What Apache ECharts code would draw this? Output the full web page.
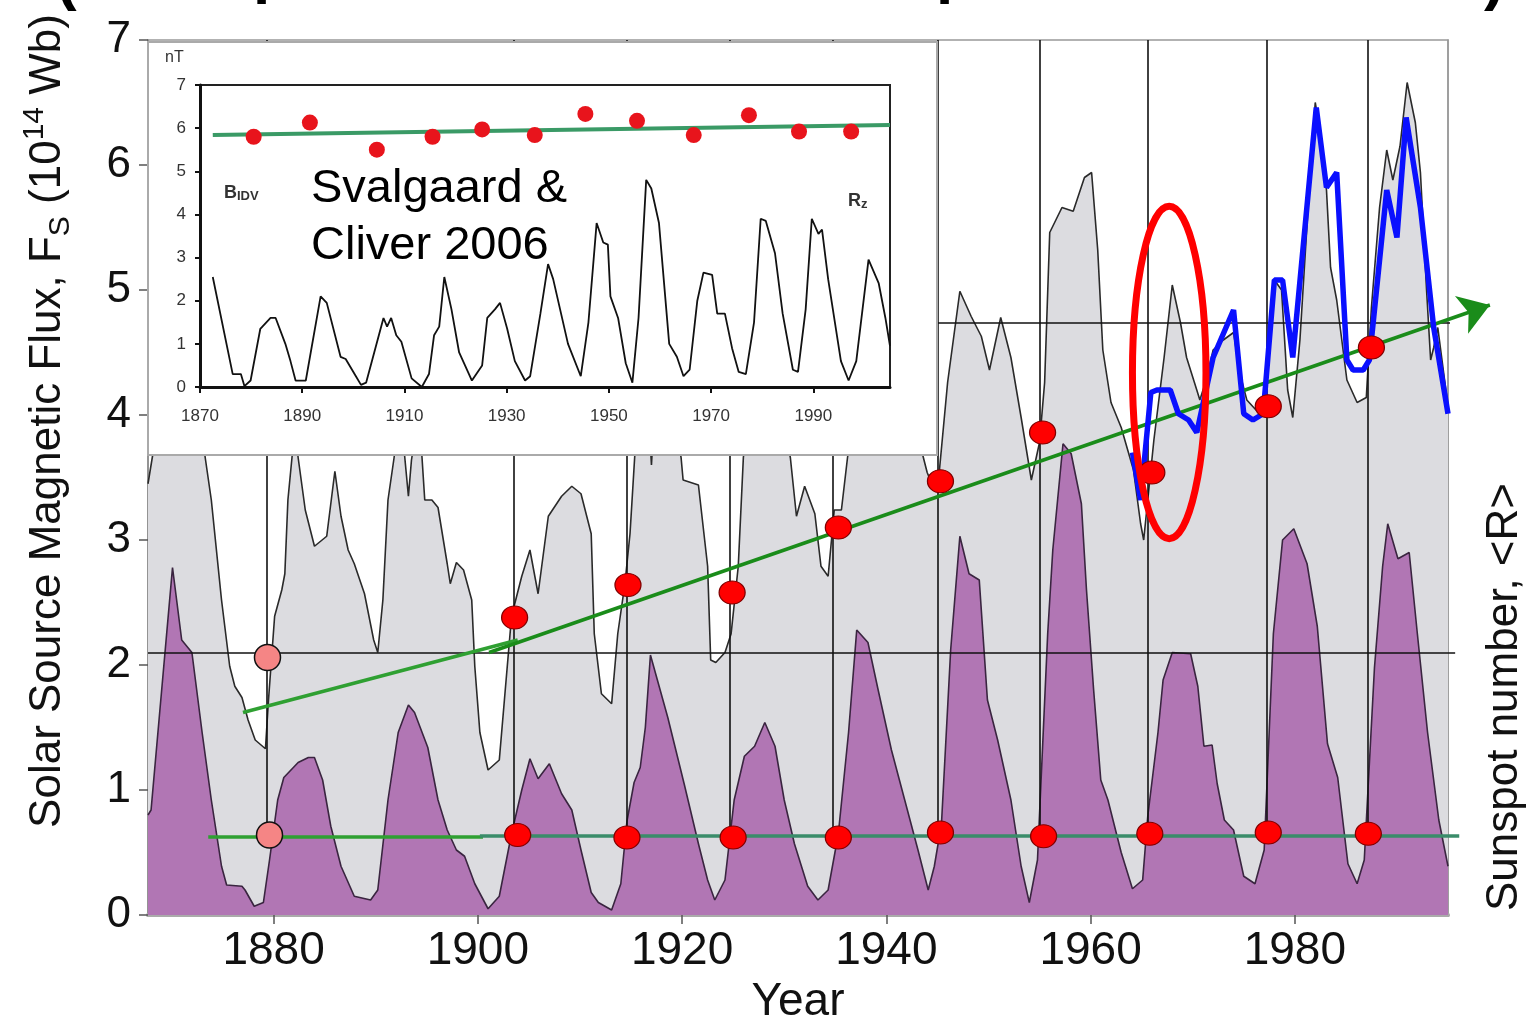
<!DOCTYPE html>
<html><head><meta charset="utf-8">
<script src="https://cdn.jsdelivr.net/npm/echarts@6/dist/echarts.min.js"></script>
<style>html,body{margin:0;padding:0;background:#fff;}#c{width:1536px;height:1016px;}</style>
</head><body><div id="c"></div>
<script>
const FONT = 'Liberation Sans, Arial, sans-serif';
// ---- main chart data ----
const xTickYears = [1880, 1900, 1920, 1940, 1960, 1980];
const fluxSeries = [[1867.7,3.45],[1868.2,3.7],[1869.5,4.6],[1871.0,4.8],[1872.5,4.2],[1873.3,3.66],[1873.9,3.32],[1874.9,2.52],[1875.7,1.99],[1876.2,1.83],[1876.9,1.74],[1877.5,1.56],[1878.2,1.4],[1879.2,1.33],[1879.5,1.72],[1880.1,2.39],[1880.8,2.6],[1881.1,2.73],[1881.4,3.32],[1881.8,3.66],[1882.1,3.9],[1882.4,3.66],[1883.1,3.24],[1884.0,2.95],[1885.2,3.03],[1886.0,3.55],[1886.6,3.19],[1887.3,2.92],[1887.9,2.81],[1888.9,2.57],[1889.8,2.2],[1890.2,2.1],[1890.7,2.52],[1891.2,3.32],[1891.8,3.66],[1892.3,4.0],[1892.8,3.7],[1893.2,3.35],[1893.5,3.64],[1894.0,3.9],[1894.5,3.7],[1894.8,3.32],[1895.5,3.32],[1896.1,3.26],[1897.0,2.81],[1897.3,2.65],[1897.9,2.82],[1898.6,2.76],[1899.4,2.52],[1899.7,1.99],[1900.2,1.46],[1901.0,1.16],[1902.1,1.24],[1902.6,1.72],[1903.3,2.39],[1904.3,2.71],[1905.1,2.92],[1905.9,2.57],[1906.9,3.19],[1908.2,3.35],[1909.2,3.43],[1910.1,3.37],[1911.1,3.05],[1911.4,2.25],[1912.1,1.77],[1913.1,1.69],[1913.7,2.25],[1914.4,2.65],[1914.9,3.05],[1915.4,3.72],[1916.0,4.2],[1916.8,3.9],[1917.0,3.6],[1917.2,3.9],[1918.5,4.3],[1919.9,3.66],[1920.1,3.48],[1921.6,3.44],[1922.5,2.79],[1922.8,2.04],[1923.3,2.02],[1924.2,2.1],[1924.8,2.25],[1925.5,2.79],[1926.0,3.66],[1927.5,4.6],[1929.0,4.3],[1930.6,3.66],[1931.2,3.19],[1932.0,3.43],[1933.0,3.21],[1933.6,2.79],[1934.3,2.71],[1934.9,3.24],[1935.6,3.24],[1936.2,3.66],[1938.0,4.6],[1940.0,4.4],[1942.0,4.0],[1943.5,3.7],[1944.0,3.54],[1944.6,3.42],[1945.2,3.56],[1946.0,4.26],[1947.2,4.99],[1948.3,4.79],[1949.3,4.63],[1950.1,4.36],[1951.2,4.78],[1952.2,4.46],[1953.2,3.98],[1954.2,3.48],[1955.0,3.78],[1955.5,4.26],[1956.0,5.46],[1957.2,5.66],[1958.3,5.63],[1959.4,5.9],[1960.1,5.94],[1960.7,5.32],[1961.2,4.52],[1962.0,4.1],[1963.0,3.9],[1964.2,3.56],[1964.9,3.13],[1965.2,3.0],[1966.2,3.8],[1967.2,4.46],[1968.0,5.04],[1968.8,4.74],[1969.4,4.46],[1970.4,4.2],[1970.7,4.12],[1971.4,4.3],[1972.0,4.52],[1973.0,4.6],[1974.0,4.66],[1974.6,4.34],[1975.3,4.12],[1976.2,4.04],[1976.9,4.07],[1977.4,4.6],[1978.0,5.08],[1978.7,5.0],[1979.3,4.2],[1979.8,3.98],[1980.5,4.6],[1981.3,5.66],[1982.0,6.5],[1982.6,6.2],[1983.1,5.8],[1983.5,5.18],[1984.1,4.92],[1985.1,4.28],[1986.1,4.1],[1987.0,4.14],[1987.5,4.86],[1988.3,5.66],[1989.0,6.12],[1989.6,5.88],[1990.3,6.15],[1991.0,6.66],[1991.8,6.34],[1992.3,5.94],[1992.9,5.0],[1993.3,4.44],[1993.6,4.54],[1994.0,4.7],[1995.0,4.07]];
const sunspotSeries = [[1867.7,0.8],[1868.0,0.84],[1870.1,2.78],[1871.0,2.2],[1872.0,2.1],[1873.0,1.46],[1873.9,0.92],[1874.9,0.39],[1875.4,0.24],[1876.9,0.23],[1877.2,0.2],[1878.1,0.07],[1879.0,0.1],[1879.6,0.44],[1880.4,0.92],[1881.0,1.1],[1882.4,1.22],[1883.4,1.26],[1884.0,1.26],[1884.8,1.08],[1885.6,0.71],[1886.6,0.39],[1887.9,0.15],[1889.5,0.12],[1890.2,0.2],[1891.2,0.92],[1892.2,1.46],[1893.2,1.68],[1893.8,1.62],[1895.1,1.34],[1896.1,0.92],[1897.0,0.68],[1897.9,0.52],[1898.7,0.47],[1899.7,0.25],[1901.0,0.05],[1902.1,0.15],[1903.3,0.65],[1904.3,1.0],[1905.1,1.25],[1905.9,1.09],[1907.0,1.21],[1908.2,0.97],[1909.2,0.84],[1910.1,0.52],[1911.1,0.18],[1911.8,0.1],[1913.1,0.04],[1914.0,0.25],[1914.6,0.75],[1915.3,1.06],[1915.9,1.18],[1916.4,1.5],[1916.9,2.08],[1918.6,1.58],[1920.2,1.05],[1921.6,0.57],[1922.5,0.28],[1923.2,0.12],[1924.2,0.28],[1925.1,0.92],[1926.1,1.27],[1927.1,1.35],[1928.1,1.54],[1929.1,1.35],[1930.0,0.92],[1931.0,0.57],[1932.3,0.23],[1933.3,0.12],[1934.3,0.2],[1935.3,0.65],[1936.3,1.46],[1937.1,2.28],[1938.2,2.18],[1939.2,1.8],[1940.5,1.32],[1941.8,0.92],[1943.1,0.52],[1944.1,0.2],[1944.7,0.39],[1945.4,0.73],[1946.3,2.12],[1947.2,3.03],[1948.1,2.73],[1949.1,2.68],[1949.9,1.72],[1950.9,1.4],[1952.2,0.92],[1953.2,0.39],[1954.0,0.1],[1954.8,0.44],[1955.8,2.25],[1956.3,2.92],[1957.3,3.77],[1958.1,3.69],[1959.1,3.29],[1959.6,2.6],[1960.3,1.8],[1961.0,1.08],[1961.7,0.92],[1963.0,0.5],[1964.1,0.21],[1965.1,0.28],[1965.6,0.79],[1966.6,1.46],[1967.1,1.88],[1968.0,2.1],[1969.8,2.09],[1970.5,1.83],[1971.1,1.35],[1971.9,1.36],[1972.4,1.05],[1973.1,0.76],[1974.0,0.68],[1975.0,0.31],[1976.1,0.25],[1977.0,0.52],[1977.9,2.25],[1978.8,3.0],[1979.9,3.09],[1981.2,2.81],[1982.2,2.31],[1983.2,1.37],[1984.2,1.1],[1985.2,0.41],[1986.1,0.25],[1986.8,0.44],[1987.8,1.98],[1988.6,2.79],[1989.1,3.13],[1990.1,2.85],[1991.2,2.9],[1992.0,2.25],[1993.0,1.46],[1994.1,0.76],[1995.0,0.39]];
const blueFluxSeries = [[1964.1,3.7],[1964.9,3.32],[1965.9,4.18],[1966.5,4.2],[1967.8,4.2],[1968.6,4.01],[1969.6,3.96],[1970.4,3.86],[1972.0,4.46],[1974.0,4.84],[1975.0,4.01],[1975.9,3.96],[1976.9,4.01],[1978.0,5.08],[1978.8,5.08],[1979.8,4.46],[1982.1,6.46],[1983.1,5.82],[1984.1,5.94],[1985.1,4.44],[1985.7,4.36],[1986.7,4.36],[1987.3,4.44],[1989.0,5.8],[1990.0,5.42],[1990.9,6.38],[1992.3,5.66],[1993.6,4.7],[1995.0,4.01]];
const minimaYears = [1879.3, 1903.5, 1914.6, 1924.7, 1934.8, 1945.0, 1955.0, 1965.6, 1977.3, 1987.1];
const minimaLineBottom = 0.64;
const upperDots = [[1903.6,2.38],[1914.7,2.64],[1924.9,2.58],[1935.3,3.1],[1945.3,3.47],[1955.3,3.86],[1966.0,3.54],[1977.4,4.07],[1987.5,4.54]];
const lowerDots = [[1903.9,0.64],[1914.6,0.62],[1925.0,0.62],[1935.3,0.62],[1945.3,0.66],[1955.4,0.63],[1965.8,0.65],[1977.4,0.66],[1987.2,0.65]];
const pinkDots = [[1879.4,2.06],[1879.6,0.64]];
const upperTrendLeft = [[1877.0,1.62],[1903.9,2.2]];
const upperTrendRight = [[1901.1,2.1],[1999.1,4.88]];
const lowerTrendLeft = [[1873.6,0.63],[1900.5,0.63]];
const lowerTrendRight = [[1900.2,0.635],[1996.1,0.635]];
const horizontalLines = [[[1867.7,2.1],[1995.7,2.1]], [[1867.7,4.736],[1995.2,4.736]]];
const ellipseCenter = [1967.7, 4.34];
const ellipseRadii = [3.6, 1.33];
// ---- inset (Svalgaard & Cliver 2006) data ----
const insetXTicks = [1870, 1890, 1910, 1930, 1950, 1970, 1990];
const insetRz = [[1872.5,2.55],[1876.4,0.3],[1878,0.3],[1878.7,0.02],[1879.9,0.15],[1881.8,1.35],[1883.8,1.6],[1884.8,1.6],[1886.7,1.0],[1887.7,0.6],[1888.7,0.15],[1890.7,0.15],[1893.6,2.1],[1894.8,1.95],[1897.5,0.7],[1898.5,0.65],[1900.5,0.25],[1901.5,0.05],[1902.5,0.1],[1905.9,1.6],[1906.6,1.4],[1907.4,1.6],[1908.4,1.2],[1909.4,1.05],[1911.4,0.2],[1913.4,0.0],[1914.8,0.3],[1915.8,1.2],[1916.8,1.4],[1917.8,2.55],[1919.2,1.8],[1920.7,0.8],[1923.2,0.15],[1925.2,0.5],[1926.2,1.6],[1927.7,1.8],[1928.7,1.95],[1930.1,1.35],[1931.6,0.6],[1933.6,0.15],[1934.6,0.25],[1936.6,1.7],[1938.1,2.85],[1939.1,2.5],[1942,1.0],[1944.5,0.25],[1946,1.5],[1947.6,3.8],[1948.9,3.35],[1949.8,3.3],[1950.3,2.1],[1951.8,1.6],[1953.3,0.55],[1954.6,0.1],[1955.8,1.6],[1957.3,4.8],[1958.3,4.6],[1959.8,3.8],[1961.8,1.0],[1963.3,0.7],[1964.6,0.25],[1965.8,0.4],[1967.3,2.0],[1968.5,2.65],[1970.2,2.6],[1971.2,1.7],[1972.7,1.7],[1974.1,0.9],[1975.4,0.35],[1976.8,0.3],[1978.4,1.5],[1979.7,3.9],[1980.7,3.85],[1982.5,3.1],[1984,1.7],[1986,0.4],[1987,0.35],[1988.5,1.8],[1989.7,3.9],[1991,3.55],[1991.7,3.65],[1992.9,2.5],[1995.4,0.6],[1996.9,0.15],[1998.4,0.6],[2000.8,2.95],[2002.8,2.4],[2004.1,1.6],[2005,0.95]];
const insetBidv = [[1880.5,5.8],[1891.5,6.13],[1904.6,5.5],[1915.5,5.8],[1925.2,5.97],[1935.5,5.84],[1945.4,6.33],[1955.5,6.17],[1966.6,5.84],[1977.4,6.3],[1987.2,5.92],[1997.4,5.92]];
const insetTrend = [[1872.5,5.84],[2005,6.07]];

const plain = v => String(v);
const chart = echarts.init(document.getElementById('c'), null, {renderer: 'canvas'});
const option = {
  animation: false,
  backgroundColor: '#fff',
  grid: [
    {left: 148, right: 88, top: 40, bottom: 101, show: true, borderColor: '#999', borderWidth: 1.5, z: 0,
     containLabel: false, outerBoundsMode: 'none'},
    {left: 200, width: 690, top: 85, height: 302, show: true, borderColor: '#222', borderWidth: 2, backgroundColor: 'transparent', z: 55,
     containLabel: false, outerBoundsMode: 'none'}
  ],
  xAxis: [
    {gridIndex: 0, type: 'value', min: 1867.7, max: 1995,
     axisLine: {show: true, lineStyle: {color: '#999', width: 3}},
     axisTick: {show: true, customValues: xTickYears, length: 9, lineStyle: {color: '#555', width: 1.5}},
     axisLabel: {customValues: xTickYears, formatter: plain, fontSize: 46, color: '#111', fontFamily: FONT, margin: 13},
     splitLine: {show: false},
     name: 'Year', nameLocation: 'middle', nameGap: 54,
     nameTextStyle: {fontSize: 46, color: '#111', fontFamily: FONT}},
    {gridIndex: 0, type: 'value', position: 'top', min: 1867.7, max: 1995,
     axisLine: {show: true, lineStyle: {color: '#aaa', width: 4}},
     axisTick: {show: false}, axisLabel: {show: false}, splitLine: {show: false}},
    {gridIndex: 1, type: 'value', min: 1870, max: 2005, z: 60,
     axisLine: {show: true, lineStyle: {color: '#111', width: 3}},
     axisTick: {show: true, customValues: insetXTicks, length: 6, lineStyle: {color: '#111', width: 2}},
     axisLabel: {customValues: insetXTicks, formatter: plain, fontSize: 17, color: '#333', fontFamily: FONT, margin: 21},
     splitLine: {show: false}}
  ],
  yAxis: [
    {gridIndex: 0, type: 'value', min: 0, max: 7, interval: 1,
     axisLine: {show: true, lineStyle: {color: '#888', width: 1.5}},
     axisTick: {show: true, length: 9, lineStyle: {color: '#555', width: 1.5}},
     axisLabel: {fontSize: 44, color: '#111', fontFamily: FONT, margin: 17},
     splitLine: {show: false}},
    {gridIndex: 0, type: 'value', position: 'right', min: 0, max: 7,
     axisLine: {show: true, lineStyle: {color: '#999', width: 1.5}},
     axisTick: {show: false}, axisLabel: {show: false}, splitLine: {show: false}},
    {gridIndex: 1, type: 'value', min: 0, max: 7, interval: 1, z: 60,
     axisLine: {show: true, lineStyle: {color: '#111', width: 3}},
     axisTick: {show: true, length: 5, lineStyle: {color: '#111', width: 2}},
     axisLabel: {fontSize: 17, color: '#333', fontFamily: FONT, margin: 14},
     splitLine: {show: false}}
  ],
  series: [
    {name: 'Solar source magnetic flux', type: 'line', xAxisIndex: 0, yAxisIndex: 0, data: fluxSeries,
     symbol: 'none', z: 2, lineStyle: {color: '#2a2a2a', width: 1.6},
     areaStyle: {color: '#dcdce0', opacity: 1}},
    {name: 'Sunspot number', type: 'line', xAxisIndex: 0, yAxisIndex: 0, data: sunspotSeries,
     symbol: 'none', z: 3, lineStyle: {color: '#3a2540', width: 1.6},
     areaStyle: {color: '#b176b4', opacity: 1}},
    {name: 'hlines', type: 'lines', coordinateSystem: 'cartesian2d', xAxisIndex: 0, yAxisIndex: 0, z: 4, clip: false,
     data: horizontalLines.map(c => ({coords: c})), lineStyle: {color: '#111', width: 1.5, opacity: 1}},
    {name: 'vlines', type: 'lines', coordinateSystem: 'cartesian2d', xAxisIndex: 0, yAxisIndex: 0, z: 4,
     data: minimaYears.map(y => ({coords: [[y, 7], [y, minimaLineBottom]]})), lineStyle: {color: '#111', width: 1.6, opacity: 1}},
    {name: 'green lower', type: 'lines', coordinateSystem: 'cartesian2d', xAxisIndex: 0, yAxisIndex: 0, z: 5, clip: false,
     data: [{coords: lowerTrendLeft, lineStyle: {color: '#2fa032'}}, {coords: lowerTrendRight, lineStyle: {color: '#3a8c6a'}}],
     lineStyle: {width: 3.5, opacity: 1}},
    {name: 'green upper', type: 'lines', coordinateSystem: 'cartesian2d', xAxisIndex: 0, yAxisIndex: 0, z: 5, clip: false,
     data: [{coords: upperTrendLeft, lineStyle: {color: '#2fa032'}}],
     lineStyle: {width: 3.5, opacity: 1}},
    {name: 'green arrow', type: 'lines', coordinateSystem: 'cartesian2d', xAxisIndex: 0, yAxisIndex: 0, z: 5, clip: false,
     symbol: ['none', 'arrow'], symbolSize: 30,
     data: [{coords: upperTrendRight}], lineStyle: {color: '#1a8c1a', width: 3.5, opacity: 1}},
    {name: 'blue', type: 'line', xAxisIndex: 0, yAxisIndex: 0, data: blueFluxSeries, symbol: 'none', z: 6,
     lineStyle: {color: '#0a10ff', width: 5.5}},
    {name: 'red dots', type: 'scatter', xAxisIndex: 0, yAxisIndex: 0, data: upperDots.concat(lowerDots), z: 7,
     symbol: 'circle', symbolSize: [26, 23], itemStyle: {color: '#ff0000', borderColor: '#800000', borderWidth: 1.2, opacity: 1}},
    {name: 'pink dots', type: 'scatter', xAxisIndex: 0, yAxisIndex: 0, data: pinkDots, z: 7,
     symbol: 'circle', symbolSize: 26, itemStyle: {color: '#f58585', borderColor: '#111', borderWidth: 1.5, opacity: 1}},
    // inset
    {name: 'Rz', type: 'line', xAxisIndex: 2, yAxisIndex: 2, data: insetRz, symbol: 'none', z: 60,
     lineStyle: {color: '#111', width: 1.8}},
    {name: 'BIDV trend', type: 'line', xAxisIndex: 2, yAxisIndex: 2, data: insetTrend, symbol: 'none', z: 61,
     lineStyle: {color: '#3a9a66', width: 4}},
    {name: 'BIDV', type: 'scatter', xAxisIndex: 2, yAxisIndex: 2, data: insetBidv, z: 62,
     symbol: 'circle', symbolSize: 16, itemStyle: {color: '#e8141c', opacity: 1}}
  ],
  graphic: [
    {id: 'insetBox', type: 'rect', z: 50, shape: {x: 148, y: 42, width: 789, height: 413},
     style: {fill: '#fff', stroke: '#aaa', lineWidth: 2}},
    {id: 'nT', type: 'text', z: 70, x: 165, y: 50, style: {text: 'nT', font: '16px ' + FONT, fill: '#333'}},
    {id: 'bidv', type: 'text', z: 70, x: 224, y: 183,
     style: {text: '{b|B}{s|IDV}', fill: '#333', rich: {b: {fontSize: 18, fontWeight: 'bold', fontFamily: FONT, fill: '#333', lineHeight: 20}, s: {fontSize: 13, fontWeight: 'bold', fontFamily: FONT, fill: '#333', verticalAlign: 'bottom', lineHeight: 14}}}},
    {id: 'rz', type: 'text', z: 70, x: 848, y: 191,
     style: {text: '{b|R}{s|z}', fill: '#333', rich: {b: {fontSize: 18, fontWeight: 'bold', fontFamily: FONT, fill: '#333', lineHeight: 20}, s: {fontSize: 13, fontWeight: 'bold', fontFamily: FONT, fill: '#333', verticalAlign: 'bottom', lineHeight: 14}}}},
    {id: 'svalgaard', type: 'text', z: 70, x: 311, y: 161,
     style: {text: 'Svalgaard &\nCliver 2006', font: '47px ' + FONT, fill: '#000', lineHeight: 57}},
    {id: 'ytitle', type: 'text', z: 70, x: 48, y: 421, rotation: Math.PI / 2,
     style: {text: '{a|Solar Source Magnetic Flux, F}{s|S}{a| (10}{p|14}{a| Wb)}', align: 'center', verticalAlign: 'middle',
       rich: {a: {fontSize: 44, fontFamily: FONT, fill: '#111', lineHeight: 56},
              s: {fontSize: 30, fontFamily: FONT, fill: '#111', lineHeight: 30, verticalAlign: 'bottom'},
              p: {fontSize: 30, fontFamily: FONT, fill: '#111', lineHeight: 30, verticalAlign: 'top'}}}},
    {id: 'rtitle', type: 'text', z: 70, x: 1505, y: 697, rotation: Math.PI / 2,
     style: {text: 'Sunspot number, <R>', align: 'center', verticalAlign: 'middle', font: '44px ' + FONT, fill: '#111'}},
    {id: 't1', type: 'text', z: 70, x: 56, y: 12, style: {text: '(', font: 'bold 62px ' + FONT, fill: '#000', verticalAlign: 'bottom'}},
    {id: 't2', type: 'text', z: 70, x: 253, y: 5, style: {text: 'p', font: 'bold 62px ' + FONT, fill: '#000', verticalAlign: 'bottom'}},
    {id: 't3', type: 'text', z: 70, x: 936, y: 5, style: {text: 'p', font: 'bold 62px ' + FONT, fill: '#000', verticalAlign: 'bottom'}},
    {id: 't4', type: 'text', z: 70, x: 1484, y: 12, style: {text: ')', font: 'bold 62px ' + FONT, fill: '#000', verticalAlign: 'bottom'}}
  ]
};
chart.setOption(option);
const cPix = chart.convertToPixel({gridIndex: 0}, ellipseCenter);
const ePix = chart.convertToPixel({gridIndex: 0}, [ellipseCenter[0] + ellipseRadii[0], ellipseCenter[1] + ellipseRadii[1]]);
chart.setOption({graphic: [
  {id: 'ellipse', type: 'ellipse', z: 40,
   shape: {cx: cPix[0], cy: cPix[1], rx: Math.abs(ePix[0] - cPix[0]), ry: Math.abs(ePix[1] - cPix[1])},
   style: {fill: 'none', stroke: '#ff0000', lineWidth: 7}}
]});
</script></body></html>
